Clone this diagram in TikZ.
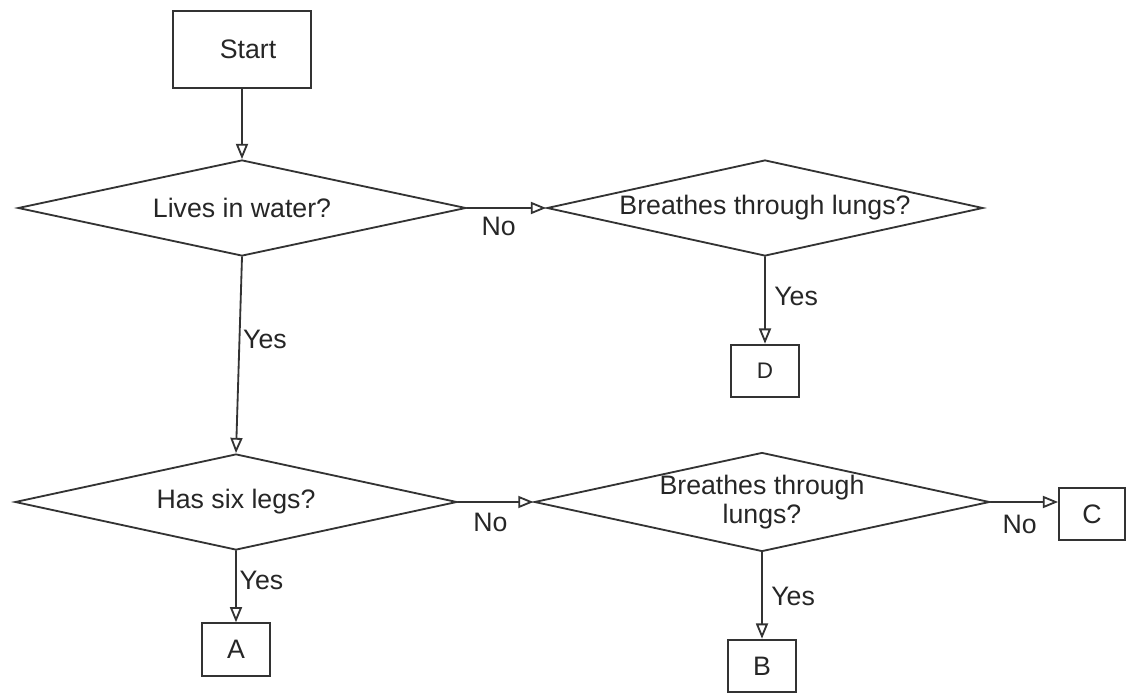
\documentclass[tikz,border=0pt]{standalone}
\usepackage{fontspec}
\setmainfont{Liberation Sans}
\usetikzlibrary{shapes.geometric,arrows.meta}

\begin{document}
\begin{tikzpicture}
		[scale=1,line cap=round,
		font=\fontsize{19}{21}\selectfont,text=black!85,
		%Styles
		flow line/.style={draw=linecolor,line width=1.3pt,-{Triangle[open,length=0.38cm,width=0.3cm]}},
		start box/.style={draw=linecolor,line width=1.3pt,rectangle,minimum width=3.43cm,minimum height=1.93cm},
		answer box/.style={draw=linecolor,line width=1.3pt,rectangle,minimum width=1.7cm,minimum height=1.32cm},
		question/.style={draw=linecolor,line width=1.3pt,diamond,aspect=4.6,inner sep=0pt,minimum width=11cm,minimum height=2.4cm,align=center},
		branch text/.style={inner sep=1pt}
		]
		
		%Colors
		\colorlet{linecolor}{black!80}	%outlines and arrows
		
		\useasboundingbox (0,0) rectangle (28.2,-17.325);
		
		%The graphic
		\node[start box] (start) at (6.05,-1.24) {\hspace*{0.3cm}Start};
		\node[question,minimum width=11.2cm] (water) at (6.05,-5.2) {Lives in water?};
		\node[question,minimum width=10.9cm] (lungsA) at (19.125,-5.2) {Breathes through lungs?};
		\node[answer box,font=\fontsize{16}{18}\selectfont] (d) at (19.125,-9.275) {D};
		\node[question,minimum width=11.05cm] (legs) at (5.9,-12.55) {Has six legs?};
		\node[question] (lungsB) at (19.05,-12.55) {Breathes through\\lungs?};
		\node[answer box,minimum width=1.65cm,minimum height=1.28cm] (c) at (27.3,-12.85) {C};
		\node[answer box] (a) at (5.9,-16.24) {A};
		\node[answer box] (b) at (19.05,-16.65) {B};
		
		\draw[flow line] (start) -- (water);
		\draw[flow line] (water.east) -- (lungsA.west) node[branch text,pos=0.4,below=5pt] {No};
		\draw[flow line] (water.south) -- (legs.north) node[branch text,pos=0.42,right=1pt] {Yes};
		\draw[flow line] (lungsA.south) -- (d.north) node[branch text,pos=0.46,right=5pt] {Yes};
		\draw[flow line] (legs.east) -- (lungsB.west) node[branch text,pos=0.43,below=6pt] {No};
		\draw[flow line] (legs.south) -- (a.north) node[branch text,pos=0.41,right=1pt] {Yes};
		\draw[flow line] (lungsB.east) -- (lungsB.east -| c.west) node[branch text,pos=0.43,below=8pt] {No};
		\draw[flow line] (lungsB.south) -- (b.north) node[branch text,pos=0.51,right=5pt] {Yes};
	\end{tikzpicture}
\end{document}
